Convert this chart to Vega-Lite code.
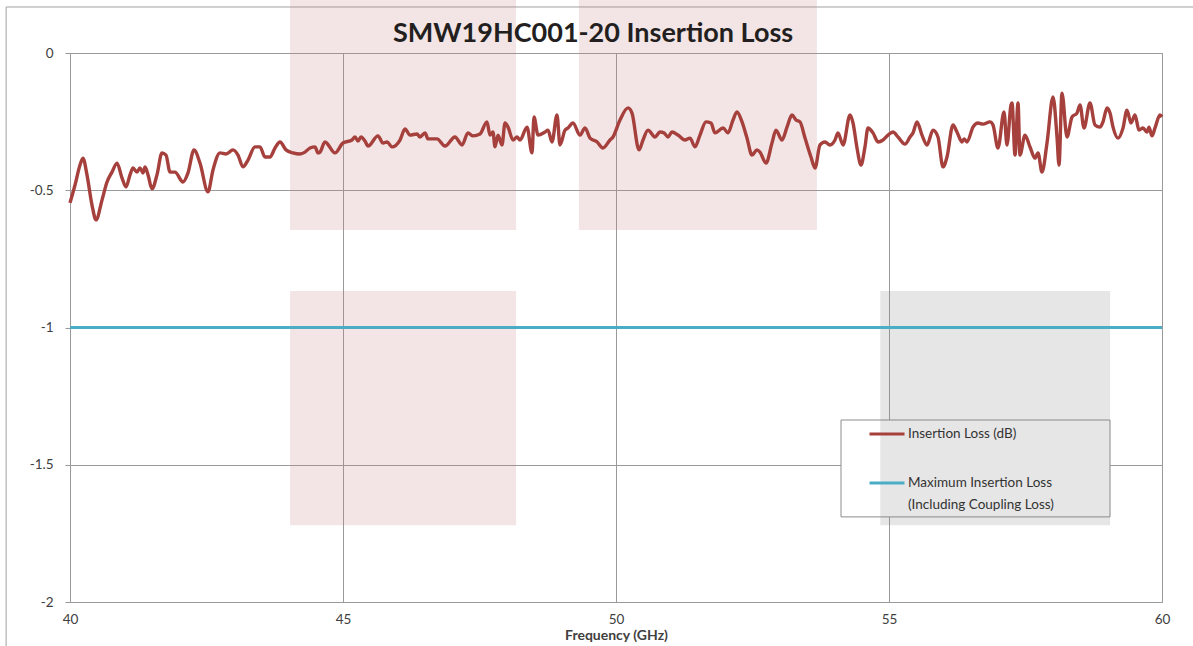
{
  "$schema": "https://vega.github.io/schema/vega-lite/v6.json",
  "width": 1092,
  "height": 549,
  "autosize": {"type": "none"},
  "padding": {"left": 70, "top": 53, "right": 31, "bottom": 44},
  "background": "white",
  "title": {"text": "SMW19HC001-20 Insertion Loss", "font": "Lato", "fontSize": 27, "fontWeight": "bold", "color": "#231f20", "anchor": "middle", "dx": -23, "offset": -48},
  "config": {
    "view": {"stroke": "#8c8c8c", "strokeWidth": 1},
    "axis": {"gridColor": "#9a9a9a", "gridWidth": 1, "gridOpacity": 1, "labelFont": "Lato", "labelColor": "#404040", "titleFont": "Lato", "titleColor": "#404040"}
  },
  "datasets": {
    "loss": [
      {"f":40.000,"il":-0.546},{"f":40.092,"il":-0.481},{"f":40.183,"il":-0.408},{"f":40.238,"il":-0.383},{"f":40.311,"il":-0.444},{"f":40.403,"il":-0.554},{"f":40.476,"il":-0.608},{"f":40.586,"il":-0.536},{"f":40.678,"il":-0.470},{"f":40.769,"il":-0.434},{"f":40.861,"il":-0.401},{"f":40.952,"il":-0.455},{"f":41.026,"il":-0.488},{"f":41.099,"il":-0.444},{"f":41.154,"il":-0.419},{"f":41.227,"il":-0.434},{"f":41.282,"il":-0.419},{"f":41.337,"il":-0.437},{"f":41.374,"il":-0.415},{"f":41.429,"il":-0.444},{"f":41.502,"il":-0.495},{"f":41.593,"il":-0.444},{"f":41.685,"il":-0.364},{"f":41.758,"il":-0.372},{"f":41.832,"il":-0.434},{"f":41.923,"il":-0.434},{"f":42.070,"il":-0.470},{"f":42.161,"il":-0.437},{"f":42.271,"il":-0.353},{"f":42.381,"il":-0.401},{"f":42.527,"il":-0.506},{"f":42.619,"il":-0.426},{"f":42.747,"il":-0.364},{"f":42.857,"il":-0.368},{"f":42.985,"il":-0.353},{"f":43.077,"il":-0.372},{"f":43.168,"il":-0.415},{"f":43.260,"il":-0.390},{"f":43.388,"il":-0.342},{"f":43.480,"il":-0.342},{"f":43.571,"il":-0.379},{"f":43.663,"il":-0.379},{"f":43.755,"il":-0.346},{"f":43.846,"il":-0.324},{"f":43.956,"il":-0.353},{"f":44.084,"il":-0.364},{"f":44.212,"il":-0.368},{"f":44.304,"il":-0.361},{"f":44.396,"il":-0.346},{"f":44.487,"il":-0.342},{"f":44.542,"il":-0.364},{"f":44.579,"il":-0.361},{"f":44.670,"il":-0.324},{"f":44.853,"il":-0.364},{"f":45.000,"il":-0.328},{"f":45.165,"il":-0.317},{"f":45.220,"il":-0.306},{"f":45.275,"il":-0.321},{"f":45.330,"il":-0.306},{"f":45.403,"il":-0.321},{"f":45.458,"il":-0.339},{"f":45.641,"il":-0.302},{"f":45.733,"il":-0.328},{"f":45.806,"il":-0.324},{"f":45.897,"il":-0.342},{"f":46.044,"il":-0.317},{"f":46.136,"il":-0.277},{"f":46.227,"il":-0.299},{"f":46.355,"il":-0.295},{"f":46.410,"il":-0.306},{"f":46.502,"il":-0.291},{"f":46.557,"il":-0.313},{"f":46.722,"il":-0.313},{"f":46.868,"il":-0.339},{"f":47.051,"il":-0.306},{"f":47.179,"il":-0.335},{"f":47.289,"il":-0.291},{"f":47.381,"il":-0.302},{"f":47.509,"il":-0.295},{"f":47.637,"il":-0.251},{"f":47.692,"il":-0.299},{"f":47.747,"il":-0.288},{"f":47.784,"il":-0.342},{"f":47.839,"il":-0.299},{"f":47.912,"il":-0.335},{"f":47.967,"il":-0.255},{"f":48.022,"il":-0.270},{"f":48.114,"il":-0.317},{"f":48.187,"il":-0.306},{"f":48.242,"il":-0.317},{"f":48.370,"il":-0.270},{"f":48.462,"il":-0.364},{"f":48.498,"il":-0.233},{"f":48.571,"il":-0.299},{"f":48.700,"il":-0.288},{"f":48.755,"il":-0.281},{"f":48.828,"il":-0.324},{"f":48.919,"il":-0.226},{"f":48.974,"il":-0.335},{"f":49.066,"il":-0.281},{"f":49.121,"il":-0.273},{"f":49.212,"il":-0.255},{"f":49.341,"il":-0.299},{"f":49.432,"il":-0.273},{"f":49.524,"il":-0.310},{"f":49.652,"il":-0.324},{"f":49.762,"il":-0.346},{"f":49.890,"il":-0.317},{"f":49.945,"il":-0.306},{"f":50.073,"il":-0.244},{"f":50.220,"il":-0.200},{"f":50.293,"il":-0.219},{"f":50.421,"il":-0.353},{"f":50.495,"il":-0.317},{"f":50.586,"il":-0.281},{"f":50.714,"il":-0.306},{"f":50.806,"il":-0.288},{"f":50.879,"il":-0.291},{"f":50.952,"il":-0.306},{"f":51.026,"il":-0.288},{"f":51.136,"il":-0.299},{"f":51.264,"il":-0.317},{"f":51.355,"il":-0.310},{"f":51.447,"il":-0.342},{"f":51.538,"il":-0.299},{"f":51.648,"il":-0.251},{"f":51.740,"il":-0.255},{"f":51.813,"il":-0.291},{"f":51.960,"il":-0.273},{"f":52.051,"il":-0.291},{"f":52.143,"il":-0.244},{"f":52.216,"il":-0.215},{"f":52.308,"il":-0.251},{"f":52.399,"il":-0.310},{"f":52.491,"il":-0.372},{"f":52.582,"il":-0.353},{"f":52.637,"il":-0.361},{"f":52.747,"il":-0.401},{"f":52.857,"il":-0.328},{"f":52.930,"il":-0.281},{"f":53.040,"il":-0.317},{"f":53.132,"il":-0.270},{"f":53.223,"il":-0.226},{"f":53.297,"il":-0.244},{"f":53.370,"il":-0.251},{"f":53.462,"il":-0.310},{"f":53.571,"il":-0.379},{"f":53.645,"il":-0.419},{"f":53.736,"il":-0.335},{"f":53.828,"il":-0.324},{"f":53.919,"il":-0.335},{"f":54.011,"il":-0.317},{"f":54.066,"il":-0.291},{"f":54.158,"il":-0.335},{"f":54.286,"il":-0.226},{"f":54.341,"il":-0.255},{"f":54.414,"il":-0.346},{"f":54.487,"il":-0.408},{"f":54.560,"il":-0.342},{"f":54.615,"il":-0.273},{"f":54.707,"il":-0.291},{"f":54.799,"il":-0.324},{"f":54.890,"il":-0.317},{"f":54.982,"il":-0.299},{"f":55.073,"il":-0.288},{"f":55.165,"il":-0.306},{"f":55.293,"il":-0.332},{"f":55.385,"il":-0.306},{"f":55.440,"il":-0.291},{"f":55.513,"il":-0.251},{"f":55.604,"il":-0.299},{"f":55.696,"il":-0.335},{"f":55.806,"il":-0.281},{"f":55.897,"il":-0.306},{"f":55.989,"il":-0.415},{"f":56.062,"il":-0.379},{"f":56.172,"il":-0.262},{"f":56.245,"il":-0.288},{"f":56.337,"il":-0.324},{"f":56.374,"il":-0.313},{"f":56.429,"il":-0.324},{"f":56.538,"il":-0.270},{"f":56.630,"il":-0.255},{"f":56.722,"il":-0.259},{"f":56.850,"il":-0.251},{"f":56.905,"il":-0.262},{"f":56.996,"il":-0.346},{"f":57.106,"il":-0.215},{"f":57.161,"il":-0.335},{"f":57.234,"il":-0.189},{"f":57.253,"il":-0.182},{"f":57.308,"il":-0.372},{"f":57.363,"il":-0.182},{"f":57.399,"il":-0.372},{"f":57.491,"il":-0.299},{"f":57.582,"il":-0.342},{"f":57.674,"il":-0.383},{"f":57.729,"il":-0.364},{"f":57.802,"il":-0.434},{"f":57.894,"il":-0.328},{"f":58.004,"il":-0.160},{"f":58.077,"il":-0.306},{"f":58.114,"il":-0.408},{"f":58.168,"il":-0.146},{"f":58.260,"il":-0.306},{"f":58.352,"il":-0.233},{"f":58.443,"il":-0.219},{"f":58.498,"il":-0.189},{"f":58.571,"il":-0.273},{"f":58.681,"il":-0.182},{"f":58.773,"il":-0.262},{"f":58.864,"il":-0.270},{"f":58.919,"il":-0.251},{"f":58.993,"il":-0.200},{"f":59.048,"il":-0.219},{"f":59.103,"il":-0.270},{"f":59.194,"il":-0.310},{"f":59.286,"il":-0.273},{"f":59.359,"il":-0.208},{"f":59.432,"il":-0.255},{"f":59.505,"il":-0.226},{"f":59.579,"il":-0.281},{"f":59.652,"il":-0.273},{"f":59.725,"il":-0.288},{"f":59.762,"il":-0.270},{"f":59.817,"il":-0.302},{"f":59.872,"il":-0.273},{"f":59.963,"il":-0.226},{"f":60.000,"il":-0.233}
    ],
    "limit": [{"f": 40, "il": -1}, {"f": 60, "il": -1}],
    "shade": [
      {"x1": 44.03, "x2": 48.17, "y1": 0.193, "y2": -0.645, "tone": "pink"},
      {"x1": 49.32, "x2": 53.68, "y1": 0.193, "y2": -0.645, "tone": "pink"},
      {"x1": 44.03, "x2": 48.17, "y1": -0.867, "y2": -1.72, "tone": "pink"},
      {"x1": 54.84, "x2": 59.05, "y1": -0.867, "y2": -1.72, "tone": "grey"}
    ],
    "legendbox": [{"x1": 54.121, "x2": 59.048, "y1": -1.337, "y2": -1.69}],
    "frame": [{"x1": 38.83, "x2": 60.75, "y1": 0.1676, "y2": -2.2}]
  },
  "layer": [
    {
      "data": {"name": "frame"},
      "mark": {"type": "rect", "fill": null, "stroke": "#a0a0a0", "strokeWidth": 1, "clip": false},
      "encoding": {
        "x": {"field": "x1", "type": "quantitative", "scale": {"domain": [40, 60], "nice": false, "zero": false}, "axis": {"values": [40, 45, 50, 55, 60], "title": "Frequency (GHz)", "ticks": false, "domain": false, "labelFlush": false, "labelFontSize": 13.5, "labelPadding": 10, "titleFontSize": 14, "titleFontWeight": "bold", "titlePadding": 3}},
        "x2": {"field": "x2"},
        "y": {"field": "y1", "type": "quantitative", "scale": {"domain": [-2, 0], "nice": false, "zero": false}, "axis": {"values": [0, -0.5, -1, -1.5, -2], "labelExpr": "'' + datum.value", "title": null, "domain": false, "ticks": true, "tickSize": 5, "tickColor": "#9a9a9a", "labelFlush": false, "labelFontSize": 13.5, "labelPadding": 12}},
        "y2": {"field": "y2"}
      }
    },
    {
      "data": {"name": "legendbox"},
      "mark": {"type": "rect", "fill": "white", "stroke": "#8c8c8c", "strokeWidth": 1},
      "encoding": {
        "x": {"field": "x1", "type": "quantitative"},
        "x2": {"field": "x2"},
        "y": {"field": "y1", "type": "quantitative"},
        "y2": {"field": "y2"}
      }
    },
    {
      "data": {"name": "shade"},
      "mark": {"type": "rect", "opacity": 0.2, "clip": false},
      "encoding": {
        "x": {"field": "x1", "type": "quantitative"},
        "x2": {"field": "x2"},
        "y": {"field": "y1", "type": "quantitative"},
        "y2": {"field": "y2"},
        "fill": {"field": "tone", "type": "nominal", "scale": {"domain": ["pink", "grey"], "range": ["#c47e7e", "#808080"]}, "legend": null}
      }
    },
    {
      "data": {"name": "limit"},
      "mark": {"type": "line", "strokeWidth": 3.2},
      "encoding": {
        "x": {"field": "f", "type": "quantitative"},
        "y": {"field": "il", "type": "quantitative"},
        "color": {"datum": "Maximum Insertion Loss (Including Coupling Loss)"}
      }
    },
    {
      "data": {"name": "loss"},
      "mark": {"type": "line", "strokeWidth": 3.4, "interpolate": "monotone"},
      "encoding": {
        "x": {"field": "f", "type": "quantitative"},
        "y": {"field": "il", "type": "quantitative"},
        "color": {"datum": "Insertion Loss (dB)", "type": "nominal",
          "scale": {"domain": ["Insertion Loss (dB)", "Maximum Insertion Loss (Including Coupling Loss)"], "range": ["#a5403d", "#4bacc6"]},
          "legend": {"title": null, "orient": "none", "legendX": 798, "legendY": 362, "direction": "vertical", "strokeColor": null, "fillColor": null, "padding": 0, "symbolOffset": 0, "symbolType": "stroke", "symbolSize": 1225, "symbolStrokeWidth": 3, "labelFont": "Lato", "labelFontSize": 13.5, "labelColor": "#333333", "labelLimit": 400, "labelOffset": 2, "rowPadding": 23, "labelBaseline": "middle",
            "labelExpr": "datum.label == 'Insertion Loss (dB)' ? datum.label : ['Maximum Insertion Loss', '(Including Coupling Loss)']",
            "encode": {"labels": {"update": {"lineHeight": {"value": 22}}}}}
        }
      }
    }
  ]
}
